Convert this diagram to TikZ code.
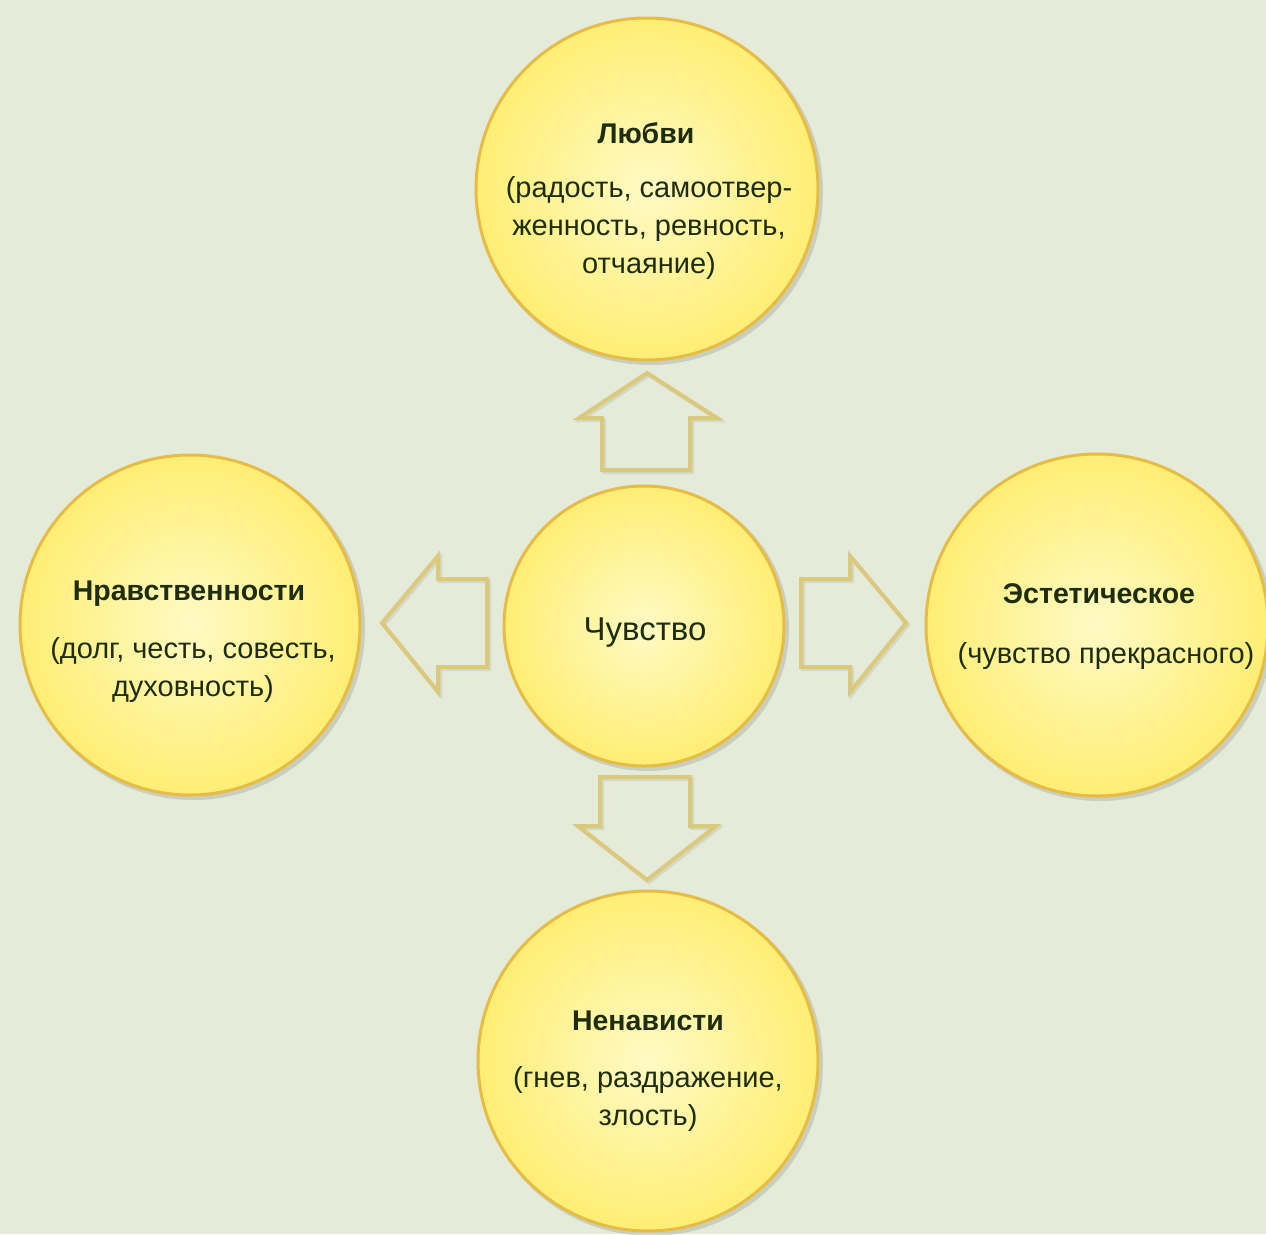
\documentclass[tikz,border=0pt]{standalone}
\usepackage{fontspec}
\setmainfont{Liberation Sans}
\definecolor{bg}{HTML}{E5EBD9}
\definecolor{circin}{HTML}{FFFAC4}
\definecolor{circout}{HTML}{FFEE74}
\definecolor{circborder}{HTML}{E6BC45}
\definecolor{arrowcol}{HTML}{DCC772}
\definecolor{txt}{HTML}{1E2D10}
\begin{document}
\begin{tikzpicture}[x=1pt,y=-1pt,
  circ/.style={circle, minimum size=#1, inner sep=0pt, draw=circborder, line width=3pt,
    inner color=circin, outer color=circout},
  circshadow/.style={circle, minimum size=#1, inner sep=0pt, fill=black, fill opacity=0.12, draw=none},
  ttl/.style={text=txt, inner sep=0pt, font=\fontsize{28.5}{32}\selectfont\bfseries},
  bdy/.style={text=txt, inner sep=0pt, align=center, font=\fontsize{29}{38}\selectfont},
  blockarrow/.style={draw=arrowcol, line width=4pt, line join=miter, draw opacity=0.9},
  arrowshadow/.style={draw=black, draw opacity=0.08, line width=4pt, line join=miter}]
\fill[bg] (0,0) rectangle (1266,1234);
\useasboundingbox (0,0) rectangle (1266,1234);

% shadows
\node[circshadow=346pt] (s1) at (650,192) {};
\node[circshadow=344pt] (s2) at (193,628) {};
\node[circshadow=284pt] (s3) at (647,629) {};
\node[circshadow=346pt] (s4) at (1100,628) {};
\node[circshadow=344pt] (s5) at (651,1064) {};

% circles
\node[circ=342pt] (love) at (647,189) {};
\node[circ=340pt] (moral) at (190,625) {};
\node[circ=280pt] (feel) at (644,626) {};
\node[circ=342pt] (aesth) at (1097,625) {};
\node[circ=340pt] (hate) at (648,1061) {};

% arrows (shadow then outline)
\begin{scope}[shift={(2,2)}]
\draw[arrowshadow] (602,470)--(602,418)--(579,418)--(647,373)--(717,418)--(690,418)--(690,470)--cycle;
\draw[arrowshadow] (600,777)--(690,777)--(690,826)--(716,826)--(647,880)--(578,826)--(600,826)--cycle;
\draw[arrowshadow] (801,579)--(850,579)--(850,556)--(906,623)--(850,692)--(850,667)--(801,667)--cycle;
\draw[arrowshadow] (487,579)--(438,579)--(438,556)--(382,623)--(438,692)--(438,667)--(487,667)--cycle;
\end{scope}
\draw[blockarrow] (602,470)--(602,418)--(579,418)--(647,373)--(717,418)--(690,418)--(690,470)--cycle;
\draw[blockarrow] (600,777)--(690,777)--(690,826)--(716,826)--(647,880)--(578,826)--(600,826)--cycle;
\draw[blockarrow] (801,579)--(850,579)--(850,556)--(906,623)--(850,692)--(850,667)--(801,667)--cycle;
\draw[blockarrow] (487,579)--(438,579)--(438,556)--(382,623)--(438,692)--(438,667)--(487,667)--cycle;

% texts
\node[ttl] (love-t) at (646,133) {Любви};
\node[bdy] (love-b) at (649,228) {(радость, самоотвер-\\женность, ревность,\\отчаяние)};
\node[ttl] (moral-t) at (189,594) {Нравственности};
\node[bdy] (moral-b) at (193,670) {(долг, честь, совесть,\\духовность)};
\node[text=txt, inner sep=0pt, font=\fontsize{33}{38}\selectfont] (feel-t) at (645,633) {Чувство};
\node[ttl] (aesth-t) at (1099,594) {Эстетическое};
\node[bdy] (aesth-b) at (1106,656) {(чувство прекрасного)};
\node[ttl] (hate-t) at (648,1021) {Ненависти};
\node[bdy] (hate-b) at (648,1099) {(гнев, раздражение,\\злость)};
\end{tikzpicture}
\end{document}
